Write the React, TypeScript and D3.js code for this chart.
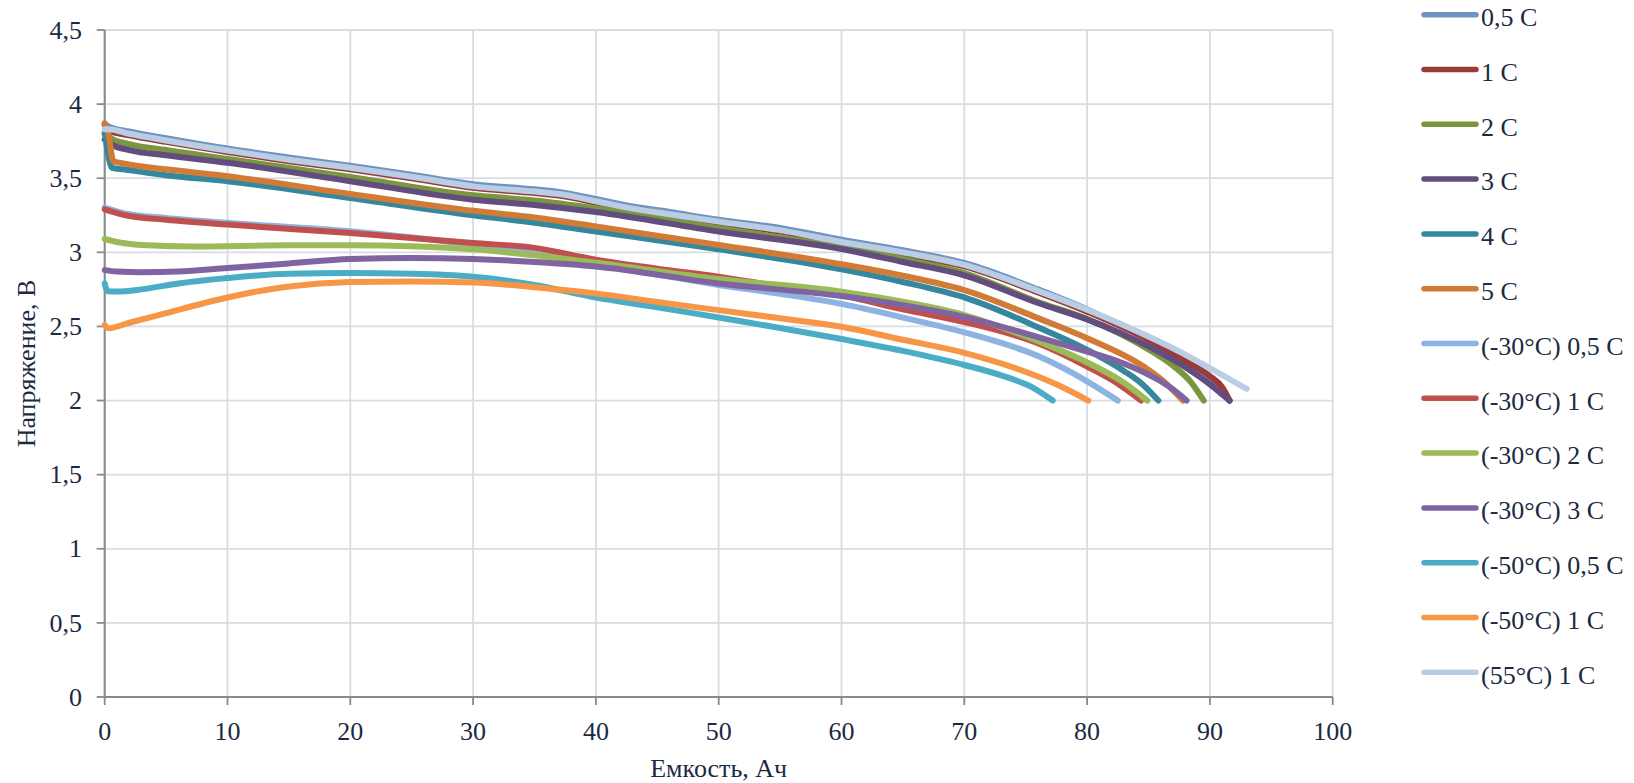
import React from "react";
import * as d3 from "d3";

// ---- Data ----
const xTicks = [0, 10, 20, 30, 40, 50, 60, 70, 80, 90, 100];
const yTicks = [0, 0.5, 1, 1.5, 2, 2.5, 3, 3.5, 4, 4.5];

const seriesNames = [
  "0,5 C", "1 C", "2 C", "3 C", "4 C", "5 C",
  "(-30°C) 0,5 C", "(-30°C) 1 C", "(-30°C) 2 C", "(-30°C) 3 C",
  "(-50°C) 0,5 C", "(-50°C) 1 C", "(55°C) 1 C",
];
const seriesColors = [
  "#7093c0", "#9a3b39", "#7a963f", "#634c7e", "#34879d", "#d27b36",
  "#8db3e2", "#c0504d", "#9bbb59", "#8064a2", "#4bacc6", "#f79646", "#b9cde5",
];

const c05_x = [0, 0.3, 2, 5, 10, 15, 20, 25, 30, 35, 37, 40, 43, 46, 50, 55, 60, 65, 70, 76, 80, 85, 88, 90, 91.6];
const c05_v = [3.87, 3.85, 3.815, 3.77, 3.7, 3.64, 3.584, 3.524, 3.46, 3.425, 3.408, 3.36, 3.31, 3.272, 3.22, 3.164, 3.085, 3.014, 2.928, 2.75, 2.615, 2.41, 2.265, 2.15, 2.0];

const c1_x = [0, 0.3, 2, 5, 10, 15, 20, 25, 30, 35, 37, 40, 43, 46, 50, 55, 60, 65, 70, 76, 80, 85, 88, 90, 91, 91.6];
const c1_v = [3.86, 3.82, 3.79, 3.745, 3.677, 3.615, 3.56, 3.5, 3.435, 3.4, 3.383, 3.335, 3.285, 3.247, 3.197, 3.14, 3.06, 2.985, 2.905, 2.73, 2.6, 2.41, 2.265, 2.165, 2.09, 2.0];

const c2_x = [0, 0.5, 2, 5, 10, 20, 30, 35, 40, 50, 60, 65, 70, 76, 80, 85, 87, 88.5, 89.5];
const c2_v = [3.8, 3.77, 3.73, 3.69, 3.63, 3.509, 3.385, 3.35, 3.297, 3.162, 3.035, 2.955, 2.86, 2.665, 2.55, 2.345, 2.235, 2.12, 2.0];

const c3_x = [0, 0.5, 2, 5, 10, 20, 30, 35, 40, 50, 60, 65, 70, 76, 80, 85, 88, 90, 91.6];
const c3_v = [3.76, 3.73, 3.69, 3.655, 3.604, 3.48, 3.355, 3.32, 3.272, 3.14, 3.022, 2.935, 2.845, 2.658, 2.548, 2.365, 2.225, 2.11, 2.0];

const c4_x = [0, 0.2, 0.6, 1.5, 5, 10, 20, 30, 35, 40, 50, 60, 65, 70, 76, 80, 83, 84.5, 85.8];
const c4_v = [3.81, 3.7, 3.57, 3.56, 3.52, 3.48, 3.367, 3.25, 3.2, 3.14, 3.02, 2.885, 2.8, 2.696, 2.495, 2.342, 2.2, 2.11, 2.0];

const c5_x = [0, 0.3, 0.7, 1.5, 5, 10, 20, 30, 35, 40, 50, 60, 65, 70, 76, 80, 85, 86.5, 87.8];
const c5_v = [3.87, 3.8, 3.615, 3.6, 3.56, 3.513, 3.394, 3.28, 3.235, 3.175, 3.05, 2.92, 2.842, 2.745, 2.556, 2.42, 2.207, 2.11, 2.0];

const m30c05_x = [0, 1, 2, 5, 10, 20, 30, 35, 40, 45, 50, 55, 60, 65, 70, 76, 80, 82.5];
const m30c05_v = [3.302, 3.277, 3.257, 3.232, 3.199, 3.142, 3.05, 2.99, 2.92, 2.85, 2.78, 2.72, 2.652, 2.56, 2.46, 2.3, 2.13, 2.0];

const m30c1_x = [0, 1, 2, 5, 10, 20, 30, 35, 40, 45, 50, 55, 60, 65, 70, 76, 80, 82, 84.4];
const m30c1_v = [3.29, 3.265, 3.245, 3.22, 3.187, 3.13, 3.063, 3.03, 2.95, 2.89, 2.836, 2.77, 2.71, 2.615, 2.53, 2.387, 2.23, 2.14, 2.0];

const m30c2_x = [0, 1, 3, 7, 15, 20, 30, 35, 40, 50, 60, 65, 70, 76, 80, 83, 84.9];
const m30c2_v = [3.09, 3.07, 3.05, 3.04, 3.047, 3.047, 3.02, 2.98, 2.93, 2.82, 2.735, 2.667, 2.577, 2.4, 2.257, 2.12, 2.0];

const m30c3_x = [0, 1, 3, 6, 10, 15, 20, 25, 30, 35, 40, 50, 60, 65, 70, 76, 80, 82, 84, 86, 87, 88.1];
const m30c3_v = [2.88, 2.87, 2.865, 2.87, 2.894, 2.925, 2.955, 2.962, 2.955, 2.935, 2.905, 2.79, 2.705, 2.644, 2.565, 2.428, 2.33, 2.28, 2.215, 2.13, 2.075, 2.0];

const m50c05_x = [0, 0.1, 0.3, 1, 3, 6, 10, 15, 20, 25, 30, 35, 40, 45, 50, 55, 60, 65, 70, 73, 75.5, 77.2];
const m50c05_v = [2.79, 2.76, 2.737, 2.735, 2.75, 2.79, 2.827, 2.856, 2.86, 2.855, 2.835, 2.78, 2.695, 2.63, 2.56, 2.49, 2.415, 2.335, 2.24, 2.17, 2.09, 2.0];

const m50c1_x = [0, 0.3, 2, 5, 8, 10, 15, 20, 25, 30, 35, 40, 45, 50, 55, 60, 65, 70, 76, 78, 80.1];
const m50c1_v = [2.51, 2.487, 2.525, 2.59, 2.655, 2.695, 2.77, 2.8, 2.804, 2.797, 2.765, 2.723, 2.665, 2.61, 2.555, 2.498, 2.41, 2.322, 2.162, 2.09, 2.0];

const p55c1_x = [0, 0.3, 2, 5, 10, 15, 20, 25, 30, 35, 37, 40, 43, 46, 50, 55, 60, 65, 70, 76, 80, 85, 88, 90, 93];
const p55c1_v = [3.83, 3.83, 3.8, 3.755, 3.687, 3.625, 3.57, 3.51, 3.445, 3.41, 3.393, 3.345, 3.295, 3.257, 3.207, 3.15, 3.07, 3.0, 2.915, 2.74, 2.613, 2.432, 2.31, 2.218, 2.079];

const seriesX = [c05_x, c1_x, c2_x, c3_x, c4_x, c5_x, m30c05_x, m30c1_x, m30c2_x, m30c3_x, m50c05_x, m50c1_x, p55c1_x];
const seriesV = [c05_v, c1_v, c2_v, c3_v, c4_v, c5_v, m30c05_v, m30c1_v, m30c2_v, m30c3_v, m50c05_v, m50c1_v, p55c1_v];

// ---- Layout ----
const W = 1634;
const H = 783;
const M = { left: 104.7, right: 1332.7, top: 30, bottom: 697 };
const TEXT = "#1b2a41";
const FONT = '"Liberation Serif"';
const textStyle = { fontFamily: FONT, fontSize: 26 } as React.CSSProperties;

export default function App() {
  const x = d3.scaleLinear().domain([0, 100]).range([M.left, M.right]);
  const y = d3.scaleLinear().domain([0, 4.5]).range([M.bottom, M.top]);
  const line = d3
    .line<[number, number]>()
    .x((d) => x(d[0]))
    .y((d) => y(d[1]))
    .curve(d3.curveMonotoneX);
  const fmt = (v: number) => String(v).replace(".", ",");
  const legendY = (i: number) => 14.7 + i * 54.8;

  return (
    <svg
      width={W}
      height={H}
      viewBox={`0 0 ${W} ${H}`}
      style={{ position: "absolute", left: 0, top: 0, display: "block", background: "#fff", fontFamily: FONT }}
    >
      {/* gridlines */}
      {yTicks.map((t) => (
        <line key={"gy" + t} x1={M.left} x2={M.right} y1={y(t)} y2={y(t)} stroke="#d9dce3" strokeWidth={1.8} />
      ))}
      {xTicks.map((t) => (
        <line key={"gx" + t} x1={x(t)} x2={x(t)} y1={M.top} y2={M.bottom} stroke="#d9dce3" strokeWidth={1.8} />
      ))}
      {/* axes */}
      <line x1={M.left} x2={M.left} y1={M.top} y2={M.bottom} stroke="#898989" strokeWidth={2} />
      <line x1={M.left} x2={M.right} y1={M.bottom} y2={M.bottom} stroke="#898989" strokeWidth={2} />
      {yTicks.map((t) => (
        <line key={"ty" + t} x1={M.left - 8} x2={M.left} y1={y(t)} y2={y(t)} stroke="#898989" strokeWidth={1.8} />
      ))}
      {xTicks.map((t) => (
        <line key={"tx" + t} x1={x(t)} x2={x(t)} y1={M.bottom} y2={M.bottom + 8} stroke="#898989" strokeWidth={1.8} />
      ))}
      {/* tick labels */}
      {yTicks.map((t) => (
        <text key={"ly" + t} x={82} y={y(t) + 8.7} textAnchor="end" style={textStyle} fill={TEXT}>
          {fmt(t)}
        </text>
      ))}
      {xTicks.map((t) => (
        <text key={"lx" + t} x={x(t)} y={739.5} textAnchor="middle" style={textStyle} fill={TEXT}>
          {fmt(t)}
        </text>
      ))}
      {/* axis titles */}
      <text x={(M.left + M.right) / 2} y={776.5} textAnchor="middle" style={textStyle} fill={TEXT}>
        Емкость, Ач
      </text>
      <text
        transform={`translate(35, ${(M.top + M.bottom) / 2}) rotate(-90)`}
        textAnchor="middle"
        style={textStyle}
        fill={TEXT}
      >
        Напряжение, В
      </text>
      {/* series */}
      {seriesNames.map((name, i) => {
        const pts: [number, number][] = seriesX[i].map((xv, k) => [xv, seriesV[i][k]]);
        return (
          <path
            key={"s" + i}
            d={line(pts) || ""}
            fill="none"
            stroke={seriesColors[i]}
            strokeWidth={6}
            strokeLinecap="round"
            strokeLinejoin="round"
          />
        );
      })}
      {/* legend */}
      {seriesNames.map((name, i) => (
        <g key={"lg" + i}>
          <line
            x1={1424}
            x2={1476}
            y1={legendY(i)}
            y2={legendY(i)}
            stroke={seriesColors[i]}
            strokeWidth={5.5}
            strokeLinecap="round"
          />
          <text x={1481} y={legendY(i) + 11.3} style={textStyle} fill={TEXT}>
            {name}
          </text>
        </g>
      ))}
    </svg>
  );
}
